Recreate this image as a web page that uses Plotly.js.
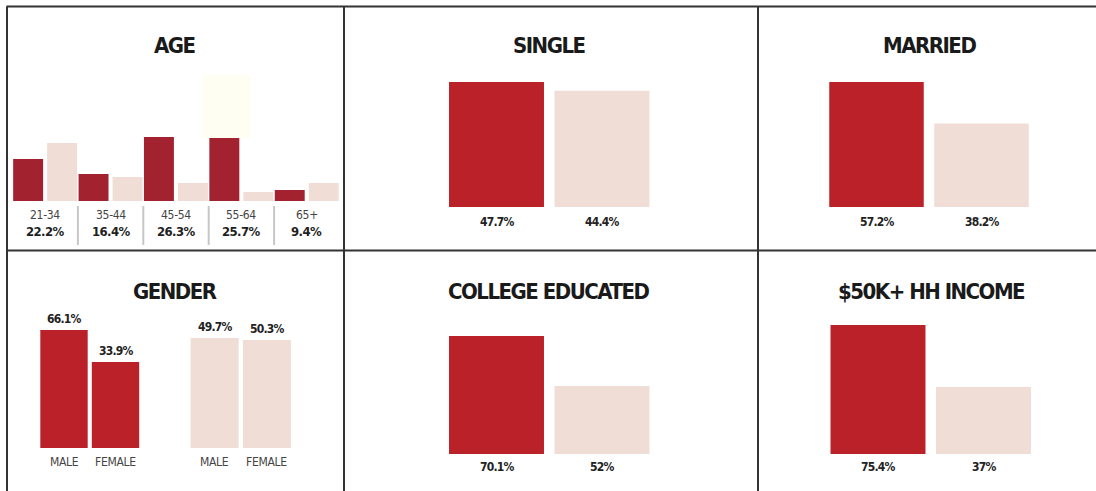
<!DOCTYPE html>
<html>
<head>
<meta charset="utf-8">
<script src="https://cdn.plot.ly/plotly-3.0.1.min.js"></script>
<style>html,body{margin:0;padding:0;background:#fff;}#chart{width:1096px;height:491px;}</style>
</head>
<body>
<div id="chart"></div>
<script>
// ---------------- DATA ----------------
const ageGroups = ['21-34', '35-44', '45-54', '55-64', '65+'];
const ageLabels = ['22.2%', '16.4%', '26.3%', '25.7%', '9.4%'];
// estimated bar heights
const ageBarRed = [17.3, 11.1, 26.3, 25.9, 4.5];
const ageBarPink = [23.8, 9.9, 7.4, 3.7, 7.4];

const genderCats = ['MALE', 'FEMALE'];
const genderRedLabels = ['66.1%', '33.9%'];
const genderRedBars = [66.1, 48.2];
const genderPinkLabels = ['49.7%', '50.3%'];
const genderPinkBars = [61.6, 60.5];

const singleLabels = ['47.7%', '44.4%'];
const singleBars = [47.7, 44.4];

const marriedLabels = ['57.2%', '38.2%'];
const marriedBars = [57.2, 38.2];

const collegeLabels = ['70.1%', '52%'];
const collegeBars = [70.1, 40.4];

const incomeLabels = ['75.4%', '37%'];
const incomeBars = [75.4, 39.2];

const panelTitles = ['AGE', 'SINGLE', 'MARRIED', 'GENDER', 'COLLEGE EDUCATED', '$50K+ HH INCOME'];

// ---------------- STYLE ----------------
const W = 1096, H = 491;
const RED = '#BB2129', DARKRED = '#A3222F', PINK = '#F0DDD5';
const NARROW = 'DejaVu Sans Condensed, Liberation Sans Narrow, sans-serif';
const px = v => v / W;
const py = v => 1 - v / H;
const tight = (t, ls) => '<span style="letter-spacing:' + ls + 'px">' + t + '</span>';

const traces = [];
const layout = {
  width: W, height: H,
  margin: {l: 0, r: 0, t: 0, b: 0},
  paper_bgcolor: '#ffffff', plot_bgcolor: 'rgba(0,0,0,0)',
  barmode: 'overlay',
  showlegend: false,
  annotations: [], shapes: []
};

function addAxes(n, xPx, yPx, nCats, yMax) {
  const xa = n === 1 ? 'xaxis' : 'xaxis' + n;
  const ya = n === 1 ? 'yaxis' : 'yaxis' + n;
  layout[xa] = {domain: [px(xPx[0]), px(xPx[1])], anchor: 'y' + (n === 1 ? '' : n), type: 'category',
    range: [-0.5, nCats - 0.5], showgrid: false, zeroline: false, showticklabels: false, showline: false, ticks: '', fixedrange: true};
  layout[ya] = {domain: [py(yPx[0]), py(yPx[1])], anchor: 'x' + (n === 1 ? '' : n),
    range: [0, yMax], showgrid: false, zeroline: false, showticklabels: false, showline: false, ticks: '', fixedrange: true};
}
const ref = n => (n === 1 ? '' : n);

// ---- AGE (axis 1) ----
addAxes(1, [12.5, 339.5], [201, 137], ageGroups.length, Math.max(...ageBarRed));
traces.push({type: 'bar', x: ageGroups, y: ageBarRed, xaxis: 'x', yaxis: 'y', width: 0.458, offset: -0.49,
  marker: {color: DARKRED, line: {width: 0}}, hoverinfo: 'skip'});
traces.push({type: 'bar', x: ageGroups, y: ageBarPink, xaxis: 'x', yaxis: 'y', width: 0.458, offset: 0.03,
  marker: {color: PINK, line: {width: 0}}, hoverinfo: 'skip'});
ageGroups.forEach((g, i) => {
  layout.annotations.push({xref: 'x', yref: 'paper', x: g, y: py(215.5), text: tight(g, -0.3), showarrow: false,
    xanchor: 'center', yanchor: 'middle', font: {family: NARROW, size: 12, color: '#444'}});
  layout.annotations.push({xref: 'x', yref: 'paper', x: g, y: py(231.5), text: '<b>' + tight(ageLabels[i], -0.6) + '</b>', showarrow: false,
    xanchor: 'center', yanchor: 'middle', font: {family: NARROW, size: 13, color: '#1e1e1e'}});
  if (i < ageGroups.length - 1) {
    layout.shapes.push({type: 'line', xref: 'x', yref: 'paper', x0: i + 0.5, x1: i + 0.5, y0: py(206), y1: py(245),
      line: {color: '#c8c8c8', width: 2}});
  }
});
// faint highlight box
layout.shapes.push({type: 'rect', xref: 'paper', yref: 'paper', x0: px(202), x1: px(251), y0: py(138), y1: py(75),
  fillcolor: '#fffef2', line: {width: 0}, layer: 'below'});

// ---- simple two-bar panels ----
function simplePanel(n, xPx, baseTop, labels, bars, labelY) {
  addAxes(n, xPx, baseTop, 2, Math.max(...bars));
  traces.push({type: 'bar', x: labels, y: bars, xaxis: 'x' + ref(n), yaxis: 'y' + ref(n), width: 0.9,
    marker: {color: [RED, PINK], line: {width: 0}}, hoverinfo: 'skip'});
  labels.forEach(l => {
    layout.annotations.push({xref: 'x' + ref(n), yref: 'paper', x: l, y: py(labelY), text: '<b>' + tight(l, -0.8) + '</b>', showarrow: false,
      xanchor: 'center', yanchor: 'middle', font: {family: NARROW, size: 12, color: '#222'}});
  });
}
simplePanel(2, [443.75, 654.75], [207, 82], singleLabels, singleBars, 222);
simplePanel(3, [824, 1034], [207, 82], marriedLabels, marriedBars, 222);
simplePanel(4, [443.75, 654.75], [454, 336], collegeLabels, collegeBars, 467);
simplePanel(5, [825.25, 1036.25], [454, 325], incomeLabels, incomeBars, 467);

// ---- GENDER (axes 6 and 7) ----
function genderPanel(n, xPx, bars, labels, color) {
  addAxes(n, xPx, [448, 330], 2, Math.max(...genderRedBars));
  traces.push({type: 'bar', x: genderCats, y: bars, xaxis: 'x' + n, yaxis: 'y' + n, width: 0.92,
    marker: {color: color, line: {width: 0}}, hoverinfo: 'skip'});
  genderCats.forEach((c, i) => {
    layout.annotations.push({xref: 'x' + n, yref: 'y' + n, x: c, y: bars[i], text: '<b>' + tight(labels[i], -0.8) + '</b>', showarrow: false,
      xanchor: 'center', yanchor: 'bottom', yshift: 2, font: {family: NARROW, size: 12, color: '#222'}});
    layout.annotations.push({xref: 'x' + n, yref: 'paper', x: c, y: py(462), text: tight(c, -0.3), showarrow: false,
      xanchor: 'center', yanchor: 'middle', font: {family: NARROW, size: 12, color: '#444'}});
  });
}
genderPanel(6, [38.25, 141.25], genderRedBars, genderRedLabels, RED);
genderPanel(7, [188.5, 293], genderPinkBars, genderPinkLabels, PINK);

// ---- panel titles ----
const titlePos = [[175, 45], [549, 45], [929, 45], [175, 291.5], [548, 291.5], [931, 291.5]];
panelTitles.forEach((t, i) => {
  layout.annotations.push({xref: 'paper', yref: 'paper', x: px(titlePos[i][0]), y: py(titlePos[i][1]),
    text: '<b>' + tight(t, -1.5) + '</b>', showarrow: false, xanchor: 'center', yanchor: 'middle',
    font: {family: NARROW, size: 22, color: '#1a1a1a'}});
});

// ---- frame lines ----
const LC = '#333333';
const frame = [
  [6.5, 6.5, 1096, 6.5],
  [7, 6.5, 7, 491],
  [344, 6.5, 344, 491],
  [758, 6.5, 758, 491],
  [7, 250.5, 1096, 250.5]
];
frame.forEach(f => layout.shapes.push({type: 'line', xref: 'paper', yref: 'paper',
  x0: px(f[0]), y0: py(f[1]), x1: px(f[2]), y1: py(f[3]), line: {color: LC, width: 2}}));

Plotly.newPlot('chart', traces, layout, {displayModeBar: false, staticPlot: true});
</script>
</body>
</html>
